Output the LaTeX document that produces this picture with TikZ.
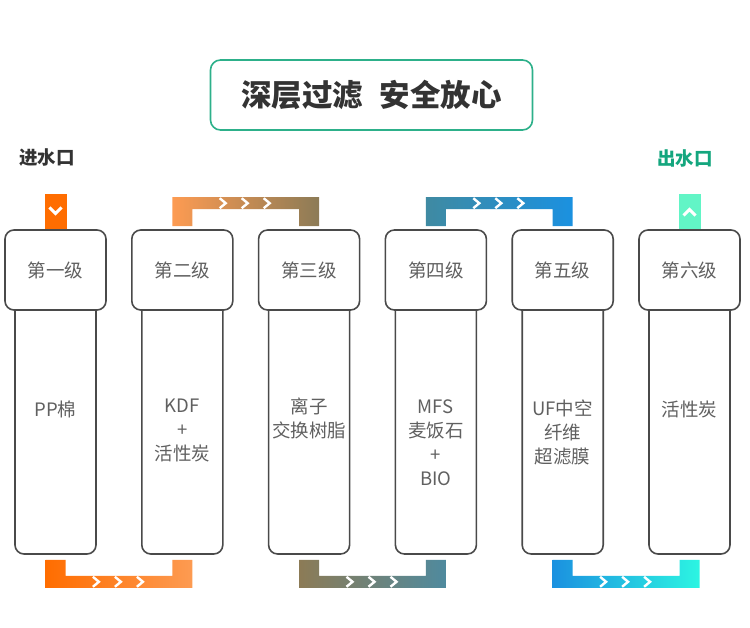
\documentclass[tikz,border=0pt]{standalone}
\usepackage{fontspec}
\setmainfont{Noto Sans CJK SC}
\usetikzlibrary{calc}

\definecolor{boxline}{HTML}{4A4A4A}
\definecolor{labelgray}{HTML}{606060}
\definecolor{titlegray}{HTML}{333333}
\definecolor{titlegreen}{HTML}{2DB08A}
\definecolor{outgreen}{HTML}{14A67E}
\definecolor{orangeA}{HTML}{FF6D00}
\definecolor{orangeB}{HTML}{FD9B52}
\definecolor{oliveC}{HTML}{8C7B56}
\definecolor{tealD}{HTML}{4F8A9E}
\definecolor{tealE}{HTML}{3F8AA2}
\definecolor{blueF}{HTML}{1B91E0}
\definecolor{cyanG}{HTML}{2CF5E2}
\definecolor{mintH}{HTML}{62F5C6}

\tikzset{
	head/.style={draw=boxline, line width=1.6pt, fill=white, rounded corners=9pt,
		minimum width=101pt, minimum height=80pt, inner sep=0pt,
		text=labelgray, font=\fontsize{18.5}{22}\selectfont},
	tube/.style={draw=boxline, line width=1.6pt, rounded corners=9pt,
		minimum width=81pt, minimum height=254pt, inner sep=0pt},
	tubetext/.style={anchor=north, inner sep=0pt, align=center,
		text=labelgray, font=\fontsize{18.5}{24}\selectfont},
	port/.style={minimum width=22pt, minimum height=35pt, inner sep=0pt, anchor=south},
	chev/.style={draw=white, line width=2.4pt, miter limit=4},
}

\begin{document}
\begin{tikzpicture}[x=1pt, y=-1pt]
	\useasboundingbox (0,0) rectangle (750,628);
	% title
	\node[draw=titlegreen, line width=1.6pt, rounded corners=10pt, minimum width=322pt,
		minimum height=70pt, text=titlegray, font=\fontsize{30.5}{34}\selectfont\bfseries]
		(title) at (371.5,95) {深层过滤\hspace{0.55em}安全放心};
	\node[text=titlegray, font=\fontsize{18.5}{20}\selectfont\bfseries] (inlet) at (47,158) {进水口};
	\node[text=outgreen, font=\fontsize{18.5}{20}\selectfont\bfseries] (outlet) at (685,158) {出水口};

	% six stages
	\foreach \i/\n in {1/一,2/二,3/三,4/四,5/五,6/六} {
		\node[tube] (b\i) at ({55.5+126.8*(\i-1)}, 427) {};
		\node[head] (h\i) at ({55.5+126.8*(\i-1)}, 270) {第\n 级};
	}
	\node[tubetext] (t1) at ($(b1.north)+(0,102)$) {PP棉};
	\node[tubetext] (t2) at ($(b2.north)+(0,100)$) {KDF\\+\\活性炭};
	\node[tubetext] (t3) at ($(b3.north)+(0,98)$) {离子\\交换树脂};
	\node[tubetext] (t4) at ($(b4.north)+(0,100)$) {MFS\\麦饭石\\+\\BIO};
	\node[tubetext] (t5) at ($(b5.north)+(0,100)$) {UF中空\\纤维\\超滤膜};
	\node[tubetext] (t6) at ($(b6.north)+(0,102)$) {活性炭};

	% water in / out
	\node[port, fill=orangeA] (inflow) at (h1.north) {};
	\draw[chev, line width=3pt] ($(inflow.center)+(-6,-4)$) -- ($(inflow.center)+(0,2)$) -- ($(inflow.center)+(6,-4)$);
	\node[port, fill=mintH] (outflow) at (h6.north) {};
	\draw[chev, line width=3pt] ($(outflow.center)+(-6,4)$) -- ($(outflow.center)+(0,-2)$) -- ($(outflow.center)+(6,4)$);

	% top links
	\shade[left color=orangeB, right color=oliveC]
		($(h2.north)+(-10,-3)$) |- ($(h3.north)+(10,-32)$) -- ($(h3.north)+(10,-3)$)
		-- ($(h3.north)+(-10,-3)$) |- ($(h2.north)+(10,-20)$) -- ($(h2.north)+(10,-3)$) -- cycle;
	\shade[left color=tealE, right color=blueF]
		($(h4.north)+(-10,-3)$) |- ($(h5.north)+(10,-32)$) -- ($(h5.north)+(10,-3)$)
		-- ($(h5.north)+(-10,-3)$) |- ($(h4.north)+(10,-20)$) -- ($(h4.north)+(10,-3)$) -- cycle;
	\coordinate (m23) at ($(h2.north)!0.5!(h3.north)$);
	\coordinate (m45) at ($(h4.north)!0.5!(h5.north)$);
	\foreach \m in {m23,m45}
		\foreach \dx in {-23,-1,21}
			\draw[chev] ($(\m)+({\dx-3},-31)$) -- ($(\m)+({\dx+3},-26)$) -- ($(\m)+({\dx-3},-21)$);

	% bottom links
	\shade[left color=orangeA, right color=orangeB]
		($(b1.south)+(-10,5)$) |- ($(b2.south)+(10,33)$) -- ($(b2.south)+(10,5)$)
		-- ($(b2.south)+(-10,5)$) |- ($(b1.south)+(10,21)$) -- ($(b1.south)+(10,5)$) -- cycle;
	\shade[left color=oliveC, right color=tealD]
		($(b3.south)+(-10,5)$) |- ($(b4.south)+(10,33)$) -- ($(b4.south)+(10,5)$)
		-- ($(b4.south)+(-10,5)$) |- ($(b3.south)+(10,21)$) -- ($(b3.south)+(10,5)$) -- cycle;
	\shade[left color=blueF, right color=cyanG]
		($(b5.south)+(-10,5)$) |- ($(b6.south)+(10,33)$) -- ($(b6.south)+(10,5)$)
		-- ($(b6.south)+(-10,5)$) |- ($(b5.south)+(10,21)$) -- ($(b5.south)+(10,5)$) -- cycle;
	\coordinate (m12) at ($(b1.south)!0.5!(b2.south)$);
	\coordinate (m34) at ($(b3.south)!0.5!(b4.south)$);
	\coordinate (m56) at ($(b5.south)!0.5!(b6.south)$);
	\foreach \m in {m12,m34,m56}
		\foreach \dx in {-23,-1,21}
			\draw[chev] ($(\m)+({\dx-3},22)$) -- ($(\m)+({\dx+3},27)$) -- ($(\m)+({\dx-3},32)$);
\end{tikzpicture}
\end{document}
